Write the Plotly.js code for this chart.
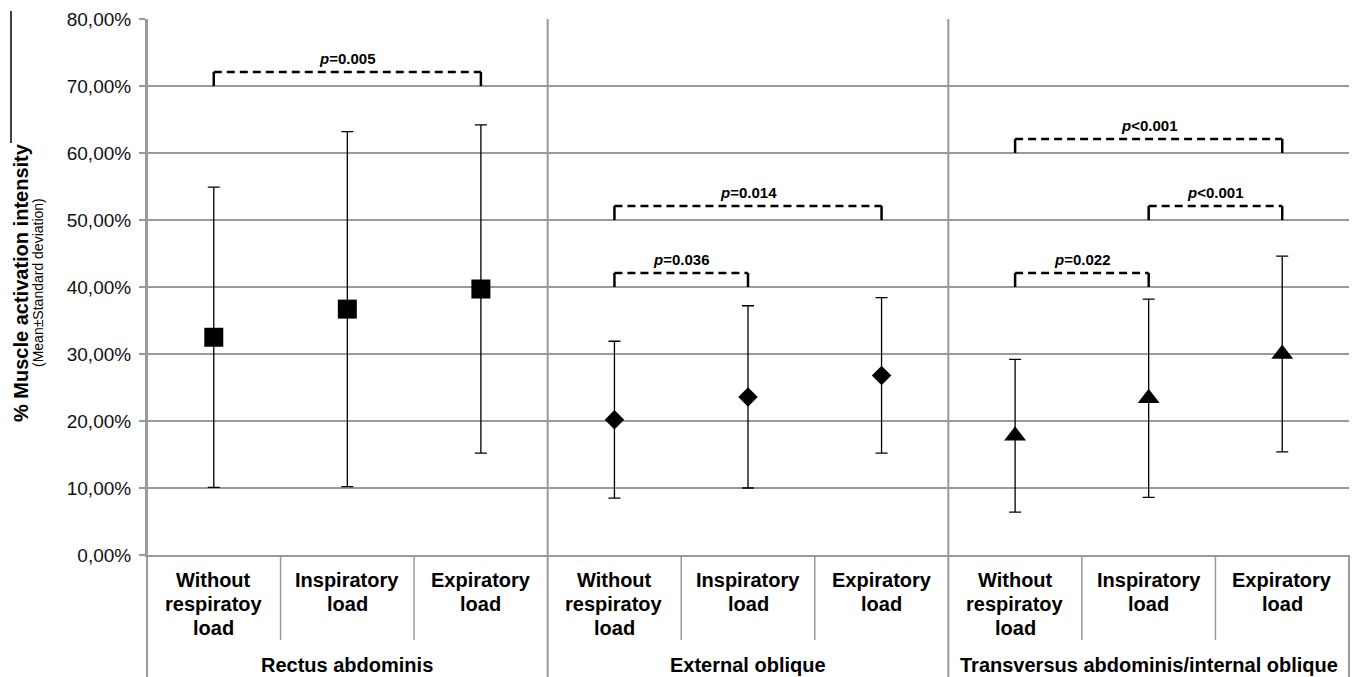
<!DOCTYPE html>
<html>
<head>
<meta charset="utf-8">
<script src="https://cdn.plot.ly/plotly-3.0.1.min.js"></script>
<style>
  html, body { margin: 0; padding: 0; background: #fff; }
  #chart { width: 1360px; height: 677px; }
</style>
</head>
<body>
<div id="chart"></div>
<script>
// Muscle groups and load conditions
const muscles = ["Rectus abdominis", "External oblique", "Transversus abdominis/internal oblique"];
const conditions = ["Without respiratoy load", "Inspiratory load", "Expiratory load"];
const conditionLines = [["Without", "respiratoy", "load"], ["Inspiratory", "load"], ["Expiratory", "load"]];

// Mean and standard deviation of activation intensity (fraction of max)
const meanRA = [0.325, 0.367, 0.397];
const sdRA   = [0.224, 0.265, 0.245];
const meanEO = [0.202, 0.236, 0.268];
const sdEO   = [0.117, 0.136, 0.116];
const meanTA = [0.178, 0.234, 0.300];
const sdTA   = [0.114, 0.148, 0.146];

// Significance brackets: slot indices (0..8), gridline level the legs rest on, p-value text
const bracketFrom  = [0, 3, 3, 6, 7, 6];
const bracketTo    = [2, 5, 4, 8, 8, 7];
const bracketBase  = [0.70, 0.50, 0.40, 0.60, 0.50, 0.40];
const bracketPText = ["=0.005", "=0.014", "=0.036", "&lt;0.001", "&lt;0.001", "=0.022"];

// y-axis ticks
const yTicks = [0, 0.1, 0.2, 0.3, 0.4, 0.5, 0.6, 0.7, 0.8];

const FONT = "Liberation Sans, Arial, Helvetica, sans-serif";
const GRID = "#9a9a9a";
const BRACKET_RISE = 0.021;

const nCond = conditions.length;
const slot = (g, i) => g * nCond + i;

const series = [
  { mean: meanRA, sd: sdRA, symbol: "square", size: 19 },
  { mean: meanEO, sd: sdEO, symbol: "diamond", size: 15 },
  { mean: meanTA, sd: sdTA, symbol: "triangle-up", size: 19 }
];

const traces = [];

// Bracket legs (solid) and tops (dashed)
bracketFrom.forEach((a, k) => {
  const b = bracketTo[k];
  const base = bracketBase[k];
  const top = base + BRACKET_RISE;
  traces.push({
    x: [a, a, null, b, b], y: [base, top, null, base, top],
    mode: "lines", line: { color: "#000", width: 2.5 },
    hoverinfo: "skip", showlegend: false, cliponaxis: false
  });
  traces.push({
    x: [a, b], y: [top, top],
    mode: "lines", line: { color: "#000", width: 2.5, dash: "8px,5px" },
    hoverinfo: "skip", showlegend: false
  });
});

// Means with ±SD error bars
series.forEach((s, g) => {
  traces.push({
    x: s.mean.map((_, i) => slot(g, i)),
    y: s.mean,
    mode: "markers",
    type: "scatter",
    name: muscles[g],
    marker: { symbol: s.symbol, size: s.size, color: "#000" },
    error_y: { type: "data", array: s.sd, visible: true, color: "#000", thickness: 1.3, width: 6 },
    showlegend: false
  });
});

const shapes = [];
const annotations = [];

// paper-coordinate helpers for the category band below the plot
const plotTop = 19, plotBottom = 555, plotH = plotBottom - plotTop;
const py = (pix) => (plotBottom - pix) / plotH;
const px = (pix) => (pix - 147) / 1202;

// Frame lines of the category band
shapes.push({ type: "line", xref: "paper", yref: "paper", x0: 0, x1: 0, y0: 1, y1: py(677),
  line: { color: GRID, width: 2 }, layer: "below" });
shapes.push({ type: "line", xref: "paper", yref: "paper", x0: 1, x1: 1, y0: 0, y1: py(677),
  line: { color: GRID, width: 2 }, layer: "below" });
for (let g = 1; g < muscles.length; g++) {
  const xg = slot(g, 0) - 0.5;
  shapes.push({ type: "line", xref: "x", yref: "paper", x0: xg, x1: xg, y0: 1, y1: py(677),
    line: { color: GRID, width: 2 }, layer: "below" });
}
for (let g = 0; g < muscles.length; g++) {
  for (let i = 1; i < nCond; i++) {
    const xs = slot(g, i) - 0.5;
    shapes.push({ type: "line", xref: "x", yref: "paper", x0: xs, x1: xs, y0: 0, y1: py(640),
      line: { color: GRID, width: 1.5 }, layer: "below" });
  }
}
// short rule at the far left edge
shapes.push({ type: "line", xref: "paper", yref: "paper", x0: px(11), x1: px(11), y0: py(11), y1: py(143),
  line: { color: "#000", width: 1.5 } });

// Condition labels, one line at a time
const lineY = [580, 604, 628];
for (let g = 0; g < muscles.length; g++) {
  conditionLines.forEach((lines, i) => {
    lines.forEach((t, j) => {
      annotations.push({
        xref: "x", yref: "paper", x: slot(g, i), y: py(lineY[j]),
        text: "<b>" + t + "</b>", showarrow: false, xanchor: "center", yanchor: "middle",
        font: { family: FONT, size: 20, color: "#000" }
      });
    });
  });
  annotations.push({
    xref: "x", yref: "paper", x: slot(g, 1), y: py(665),
    text: "<b>" + muscles[g] + "</b>", showarrow: false, xanchor: "center", yanchor: "middle",
    font: { family: FONT, size: 20, color: "#000" }
  });
}

// p-value labels above the brackets
bracketFrom.forEach((a, k) => {
  annotations.push({
    xref: "x", yref: "y", x: (a + bracketTo[k]) / 2, y: bracketBase[k] + BRACKET_RISE,
    text: "<b><i>p</i>" + bracketPText[k] + "</b>", showarrow: false,
    xanchor: "center", yanchor: "bottom", yshift: 3,
    font: { family: FONT, size: 15, color: "#000" }
  });
});

// y-axis title and subtitle
annotations.push({
  xref: "paper", yref: "paper", x: px(21), y: py(283),
  text: "<b>% Muscle activation intensity</b>", textangle: -90, showarrow: false,
  xanchor: "center", yanchor: "middle", font: { family: FONT, size: 20, color: "#000" }
});
annotations.push({
  xref: "paper", yref: "paper", x: px(38), y: py(283),
  text: "(Mean±Standard deviation)", textangle: -90, showarrow: false,
  xanchor: "center", yanchor: "middle", font: { family: FONT, size: 14, color: "#000" }
});

const layout = {
  width: 1360, height: 677,
  margin: { l: 147, r: 11, t: 19, b: 122 },
  paper_bgcolor: "#fff", plot_bgcolor: "#fff",
  separators: ",.",
  showlegend: false,
  font: { family: FONT, color: "#000" },
  xaxis: {
    range: [-0.5, 8.5], showgrid: false, zeroline: false, showticklabels: false,
    showline: true, linecolor: GRID, linewidth: 2, ticks: ""
  },
  yaxis: {
    range: [0, 0.8], tickvals: yTicks, tickformat: ".2%",
    showgrid: true, gridcolor: GRID, gridwidth: 2, zeroline: false,
    showline: true, linecolor: GRID, linewidth: 2,
    ticks: "outside", ticklen: 6, tickcolor: GRID, tickwidth: 2,
    ticklabelstandoff: 4,
    tickfont: { family: FONT, size: 19, color: "#111" }
  },
  shapes: shapes,
  annotations: annotations
};

Plotly.newPlot("chart", traces, layout, { displayModeBar: false, staticPlot: true });
</script>
</body>
</html>
